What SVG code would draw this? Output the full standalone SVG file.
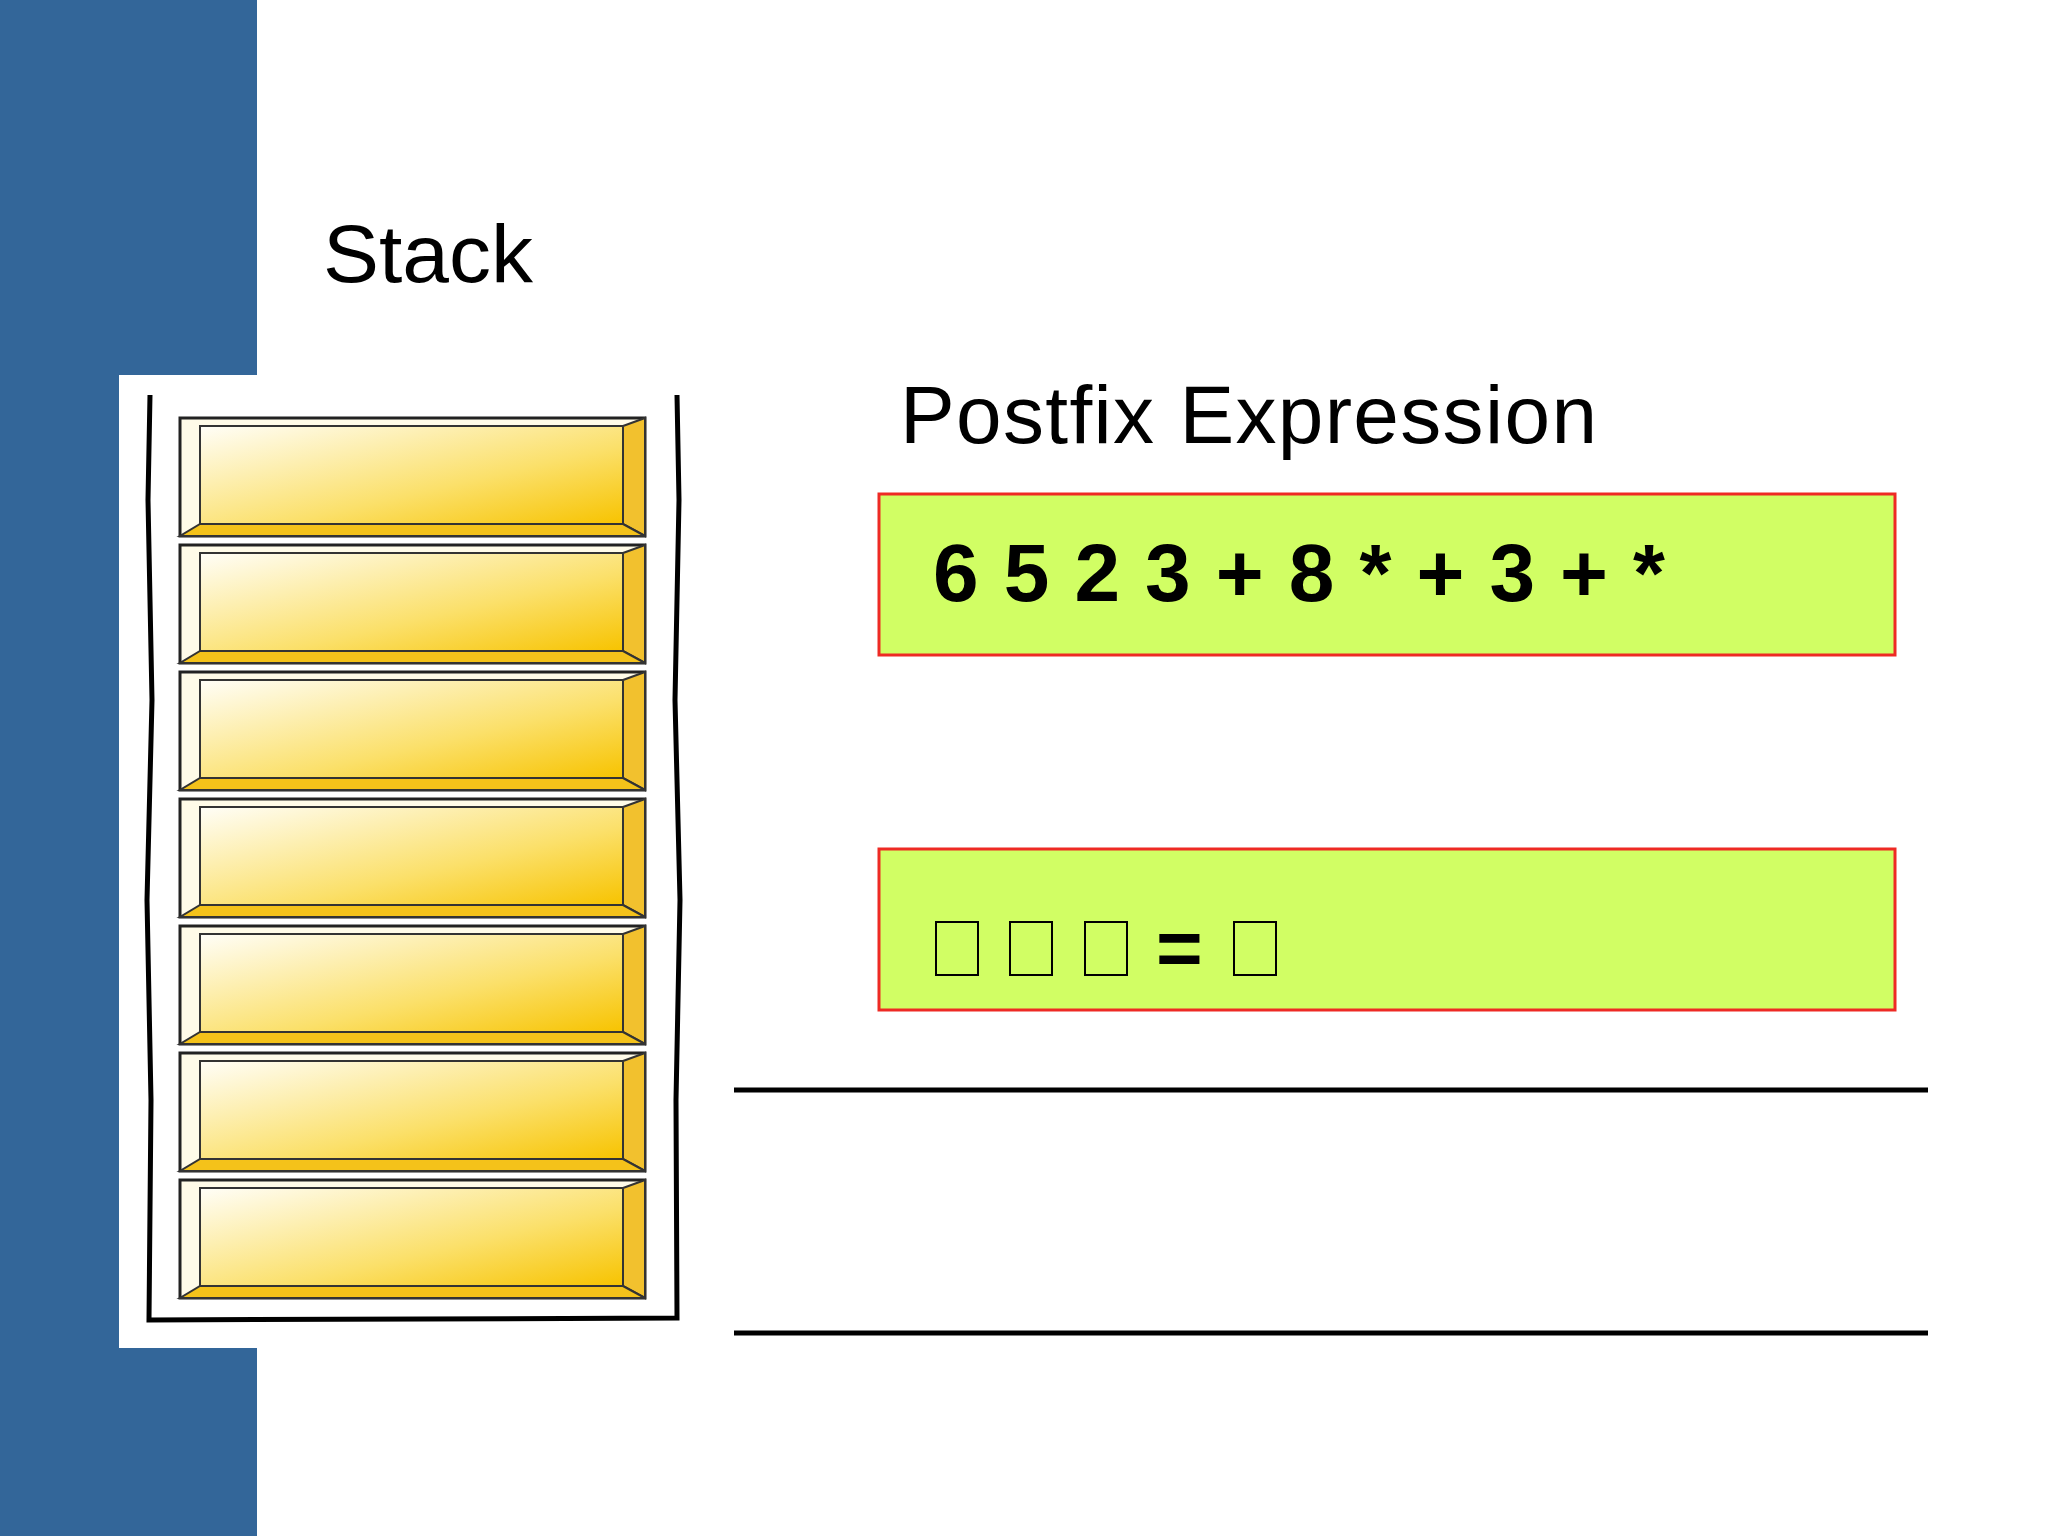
<svg xmlns="http://www.w3.org/2000/svg" width="2048" height="1536" viewBox="0 0 2048 1536">
<defs>
<linearGradient id="g" x1="0" y1="0" x2="1" y2="1">
<stop offset="0" stop-color="#fffef8"/><stop offset="0.6" stop-color="#fbe06a"/><stop offset="1" stop-color="#f7c300"/>
</linearGradient>
<g id="slot">
<rect x="0" y="0" width="465" height="118" fill="#fffbe8" stroke="#222" stroke-width="3"/>
<rect x="20" y="8" width="423" height="98" fill="url(#g)" stroke="#333" stroke-width="2"/>
<polygon points="443,8 465,0 465,118 443,106" fill="#f2c12e" stroke="#333" stroke-width="2"/>
<polygon points="20,106 443,106 465,118 0,118" fill="#f4c21a" stroke="#333" stroke-width="2"/>
</g>
</defs>
<style>
.t{font-family:"Liberation Sans",Arial,sans-serif;fill:#000}
.box{fill:#d1fe64;stroke:#ee2a24;stroke-width:3}
.ln{stroke:#000;stroke-width:5}
.tofu{fill:none;stroke:#000;stroke-width:2}
</style>
<rect width="2048" height="1536" fill="#fff"/>
<rect x="0" y="0" width="257" height="1536" fill="#336699"/>
<rect x="119" y="375" width="580" height="973" fill="#fff"/>
<text class="t" x="323" y="282" font-size="82" textLength="210" lengthAdjust="spacingAndGlyphs">Stack</text>
<g id="stack">
<path d="M150,395 L148,500 L152,700 L147,900 L151,1100 L149,1320 L677,1318 L676,1100 L680,900 L675,700 L679,500 L677,395" fill="none" stroke="#000" stroke-width="5"/>
<use href="#slot" x="180" y="418"/>
<use href="#slot" x="180" y="545"/>
<use href="#slot" x="180" y="672"/>
<use href="#slot" x="180" y="799"/>
<use href="#slot" x="180" y="926"/>
<use href="#slot" x="180" y="1053"/>
<use href="#slot" x="180" y="1180"/>
</g>
<text class="t" x="900" y="443" font-size="82" textLength="697">Postfix Expression</text>
<g id="expr">
<rect class="box" x="879" y="494" width="1016" height="161"/>
<text class="t" x="933" y="601" font-size="82" font-weight="bold" textLength="732">6 5 2 3 + 8 * + 3 + *</text>
</g>
<g id="result">
<rect class="box" x="879" y="849" width="1016" height="161"/>
<rect class="tofu" x="936" y="922" width="42" height="53"/>
<rect class="tofu" x="1010" y="922" width="42" height="53"/>
<rect class="tofu" x="1085" y="922" width="42" height="53"/>
<text class="t" x="1156" y="975" font-size="80" font-weight="bold">=</text>
<rect class="tofu" x="1234" y="922" width="42" height="53"/>
</g>
<g id="connectors">
<line class="ln" x1="734" y1="1090" x2="1928" y2="1090"/>
<line class="ln" x1="734" y1="1333" x2="1928" y2="1333"/>
</g>
</svg>
